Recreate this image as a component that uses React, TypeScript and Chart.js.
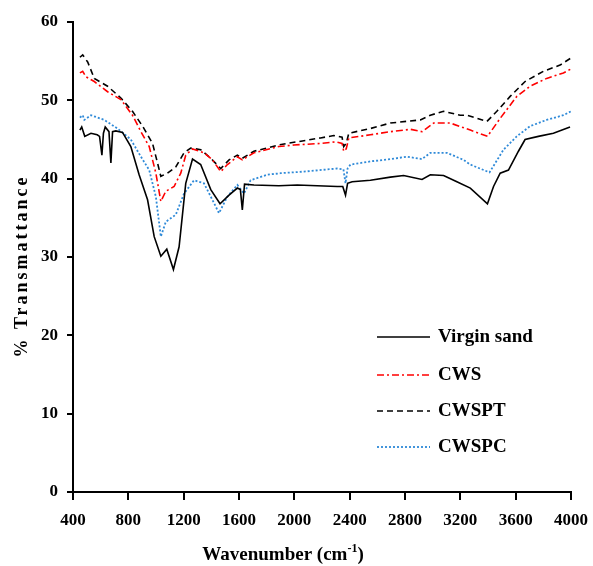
import React, { useEffect, useRef } from "react";
import { Chart, registerables } from "chart.js";

Chart.register(...registerables);

// Wavenumber (cm-1) and % transmittance
const virginX = [450, 463, 485, 530, 575, 592, 609, 620, 633, 660, 674, 686, 710, 758, 818, 878, 939, 987, 1035, 1078, 1126, 1167, 1215, 1264, 1323, 1396, 1463, 1528, 1588, 1610, 1624, 1640, 1708, 1888, 2021, 2310, 2350, 2370, 2385, 2418, 2550, 2694, 2790, 2923, 2983, 3079, 3175, 3272, 3396, 3440, 3488, 3548, 3620, 3668, 3764, 3873, 3993];
const virginY = [46.2, 46.6, 45.4, 45.8, 45.6, 45.4, 43.0, 45.8, 46.6, 46.0, 42.0, 46.0, 46.1, 45.9, 44.1, 40.5, 37.3, 32.6, 30.1, 31.0, 28.4, 31.3, 39.4, 42.5, 41.8, 38.6, 36.8, 37.9, 38.8, 38.6, 36.0, 39.3, 39.2, 39.1, 39.2, 39.0, 39.0, 37.9, 39.4, 39.6, 39.8, 40.2, 40.4, 39.9, 40.5, 40.4, 39.6, 38.8, 36.8, 39.0, 40.7, 41.1, 43.5, 45.0, 45.4, 45.8, 46.6];

const cwsX = [450, 470, 494, 554, 650, 746, 830, 891, 951, 999, 1035, 1071, 1131, 1179, 1215, 1264, 1347, 1408, 1468, 1516, 1588, 1624, 1708, 1888, 1997, 2189, 2297, 2345, 2357, 2375, 2394, 2550, 2694, 2839, 2923, 3007, 3127, 3272, 3396, 3488, 3608, 3704, 3824, 3945, 4000];
const cwsY = [53.5, 53.7, 53.0, 52.4, 51.1, 50.1, 48.1, 46.0, 44.1, 40.7, 37.1, 38.4, 39.0, 40.7, 43.0, 43.8, 43.3, 42.4, 40.9, 41.8, 42.8, 42.4, 43.3, 44.1, 44.3, 44.5, 44.7, 44.5, 43.5, 43.8, 45.2, 45.6, 46.0, 46.3, 46.0, 47.1, 47.1, 46.2, 45.4, 47.7, 50.5, 51.8, 52.8, 53.5, 54.0];

const cwsptX = [450, 470, 506, 554, 650, 746, 830, 903, 975, 1011, 1035, 1083, 1143, 1203, 1251, 1323, 1396, 1468, 1528, 1588, 1624, 1708, 1888, 1949, 2189, 2285, 2345, 2357, 2375, 2394, 2550, 2694, 2911, 2983, 3079, 3199, 3248, 3392, 3464, 3560, 3668, 3800, 3921, 4000];
const cwsptY = [55.5, 55.8, 54.9, 52.8, 51.8, 50.3, 48.6, 46.7, 44.5, 42.0, 40.3, 40.7, 41.5, 43.3, 43.9, 43.7, 42.6, 41.3, 42.4, 43.0, 42.6, 43.5, 44.3, 44.5, 45.2, 45.5, 45.3, 44.1, 44.5, 45.8, 46.4, 47.1, 47.5, 48.1, 48.6, 48.1, 48.1, 47.3, 48.6, 50.5, 52.4, 53.7, 54.5, 55.4];

const cwspcX = [450, 470, 482, 530, 626, 722, 818, 891, 951, 999, 1035, 1071, 1143, 1203, 1275, 1347, 1419, 1455, 1516, 1588, 1636, 1684, 1805, 1901, 2069, 2310, 2355, 2370, 2385, 2406, 2550, 2694, 2815, 2923, 2983, 3103, 3223, 3272, 3411, 3512, 3608, 3704, 3824, 3945, 4000];
const cwspcY = [47.8, 48.1, 47.5, 48.1, 47.5, 46.4, 45.0, 42.8, 41.1, 37.7, 32.6, 34.5, 35.4, 38.1, 39.8, 39.4, 36.9, 35.6, 37.7, 39.2, 38.1, 39.8, 40.5, 40.7, 40.9, 41.3, 41.2, 39.4, 41.3, 41.8, 42.2, 42.5, 42.8, 42.5, 43.3, 43.3, 42.4, 41.8, 40.8, 43.7, 45.4, 46.7, 47.5, 48.1, 48.6];

const seriesNames = ["Virgin sand", "CWS", "CWSPT", "CWSPC"];
const xTicks = [400, 800, 1200, 1600, 2000, 2400, 2800, 3200, 3600, 4000];
const yTicks = [0, 10, 20, 30, 40, 50, 60];
const xTitle = "Wavenumber (cm";
const xTitleSup = "-1";
const yTitle = "% Transmattance";

const FONT = "'Liberation Serif', 'Times New Roman', serif";

const styles = [
  { color: "#000000", dash: [] as number[], width: 1.6 },
  { color: "#ff0000", dash: [7, 3, 2, 3], width: 1.6 },
  { color: "#000000", dash: [6, 4], width: 1.6 },
  { color: "#2f8ad8", dash: [2, 2], width: 1.8 },
];

const toPoints = (xs: number[], ys: number[]) => xs.map((x, i) => ({ x, y: ys[i] }));

const overlayPlugin = {
  id: "overlay",
  afterDraw(chart: any) {
    const ctx = chart.ctx as CanvasRenderingContext2D;
    ctx.save();
    // legend
    const lx0 = 377, lx1 = 430, tx = 438;
    const rows = [337, 375, 411, 447];
    ctx.font = `bold 19px ${FONT}`;
    ctx.textBaseline = "middle";
    ctx.textAlign = "left";
    seriesNames.forEach((name, i) => {
      const s = styles[i];
      ctx.beginPath();
      ctx.setLineDash(s.dash);
      ctx.strokeStyle = s.color;
      ctx.lineWidth = s.width;
      ctx.moveTo(lx0, rows[i]);
      ctx.lineTo(lx1, rows[i]);
      ctx.stroke();
      ctx.setLineDash([]);
      ctx.fillStyle = "#000";
      ctx.fillText(name, tx, rows[i]);
    });
    // y title
    ctx.save();
    ctx.translate(22, 266);
    ctx.rotate(-Math.PI / 2);
    (ctx as any).letterSpacing = "3px";
    ctx.font = `bold 18px ${FONT}`;
    ctx.textAlign = "center";
    ctx.textBaseline = "middle";
    ctx.fillStyle = "#000";
    ctx.fillText(yTitle, 0, 0);
    ctx.restore();
    // x title
    ctx.font = `bold 19px ${FONT}`;
    const w1 = ctx.measureText(xTitle).width;
    ctx.font = `bold 12px ${FONT}`;
    const w2 = ctx.measureText(xTitleSup).width;
    ctx.font = `bold 19px ${FONT}`;
    const w3 = ctx.measureText(")").width;
    const cx = 283;
    let x = cx - (w1 + w2 + w3) / 2;
    const by = 560;
    ctx.textAlign = "left";
    ctx.textBaseline = "alphabetic";
    ctx.fillText(xTitle, x, by);
    x += w1;
    ctx.font = `bold 12px ${FONT}`;
    ctx.fillText(xTitleSup, x, by - 8);
    x += w2;
    ctx.font = `bold 19px ${FONT}`;
    ctx.fillText(")", x, by);
    ctx.restore();
  },
};

export default function App() {
  const ref = useRef<HTMLCanvasElement>(null);
  useEffect(() => {
    if (!ref.current) return;
    const all = [
      toPoints(virginX, virginY),
      toPoints(cwsX, cwsY),
      toPoints(cwsptX, cwsptY),
      toPoints(cwspcX, cwspcY),
    ];
    const chart = new Chart(ref.current, {
      type: "line",
      data: {
        datasets: all.map((d, i) => ({
          label: seriesNames[i],
          data: d,
          borderColor: styles[i].color,
          borderDash: styles[i].dash,
          borderWidth: styles[i].width,
          pointRadius: 0,
          tension: 0,
          fill: false,
        })),
      },
      options: {
        responsive: false,
        animation: false,
        layout: { padding: { top: 22, right: 22, left: 0, bottom: 0 } },
        plugins: { legend: { display: false }, tooltip: { enabled: false } },
        scales: {
          x: {
            type: "linear",
            min: 400,
            max: 4000,
            afterBuildTicks: (s: any) => {
              s.ticks = xTicks.map((v) => ({ value: v }));
            },
            afterFit: (s: any) => {
              s.height = 74;
              s.paddingLeft = 0;
              s.paddingRight = 0;
            },
            grid: { drawOnChartArea: false, drawTicks: true, tickLength: 8, color: "#000", lineWidth: 2 },
            border: { color: "#000", width: 2 },
            ticks: {
              color: "#000",
              font: { family: FONT, size: 17, weight: "bold" },
              padding: 10,
              maxRotation: 0,
              autoSkip: false,
              callback: (v: any) => String(v),
            },
          },
          y: {
            min: 0,
            max: 60,
            afterBuildTicks: (s: any) => {
              s.ticks = yTicks.map((v) => ({ value: v }));
            },
            afterFit: (s: any) => {
              s.width = 73;
              s.paddingTop = 0;
              s.paddingBottom = 0;
            },
            grid: { drawOnChartArea: false, drawTicks: true, tickLength: 6, color: "#000", lineWidth: 2 },
            border: { color: "#000", width: 2 },
            ticks: {
              color: "#000",
              font: { family: FONT, size: 17, weight: "bold" },
              padding: 9,
              autoSkip: false,
              callback: (v: any) => String(v),
            },
          },
        },
      },
      plugins: [overlayPlugin],
    } as any);
    return () => chart.destroy();
  }, []);
  return (
    <div style={{ position: "fixed", left: 0, top: 0, width: 593, height: 566, background: "#fff" }}>
      <canvas ref={ref} width={593} height={566} style={{ display: "block" }} />
    </div>
  );
}
